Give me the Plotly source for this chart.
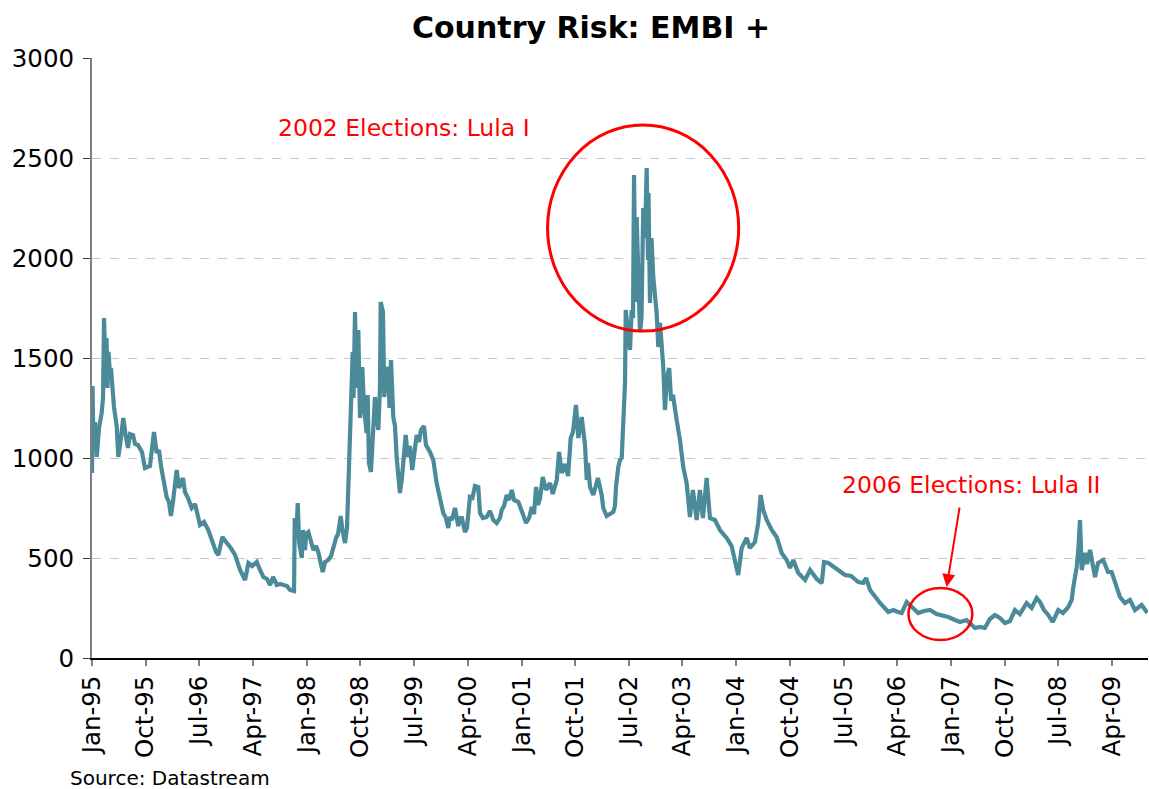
import pandas as pd
import plotly.graph_objects as go

# Observation times (decimal years) and EMBI+ spread (basis points)
t_year = [
    1995.000, 1995.007, 1995.021, 1995.042, 1995.066, 1995.098, 1995.135, 1995.154, 1995.168, 1995.189,
    1995.203, 1995.216, 1995.230, 1995.251, 1995.265, 1995.307, 1995.345, 1995.367, 1995.391, 1995.437,
    1995.468, 1995.503, 1995.531, 1995.573, 1995.601, 1995.642, 1995.698, 1995.740, 1995.810, 1995.838,
    1995.866, 1995.904, 1995.936, 1995.964, 1995.992, 1996.043, 1996.075, 1996.103, 1996.131, 1996.183,
    1996.215, 1996.243, 1996.271, 1996.299, 1996.341, 1996.392, 1996.439, 1996.508, 1996.564, 1996.624,
    1996.662, 1996.690, 1996.732, 1996.764, 1996.820, 1996.871, 1996.927, 1996.997, 1997.067, 1997.137,
    1997.183, 1997.235, 1997.300, 1997.346, 1997.392, 1997.444, 1997.486, 1997.528, 1997.580, 1997.626,
    1997.672, 1997.723, 1997.765, 1997.821, 1997.831, 1997.849, 1997.873, 1997.891, 1997.929, 1997.947,
    1997.975, 1997.989, 1998.021, 1998.059, 1998.091, 1998.128, 1998.160, 1998.184, 1998.222, 1998.254,
    1998.300, 1998.338, 1998.370, 1998.408, 1998.436, 1998.473, 1998.498, 1998.533, 1998.561, 1998.585,
    1998.613, 1998.641, 1998.652, 1998.673, 1998.694, 1998.719, 1998.743, 1998.775, 1998.799, 1998.836,
    1998.850, 1998.868, 1998.896, 1998.929, 1998.952, 1998.980, 1998.999, 1999.022, 1999.032, 1999.064,
    1999.082, 1999.106, 1999.138, 1999.155, 1999.176, 1999.208, 1999.232, 1999.255, 1999.278, 1999.301,
    1999.329, 1999.381, 1999.413, 1999.441, 1999.473, 1999.497, 1999.535, 1999.567, 1999.595, 1999.637,
    1999.665, 1999.721, 1999.767, 1999.814, 1999.860, 1999.906, 1999.944, 1999.976, 2000.000, 2000.028,
    2000.070, 2000.116, 2000.139, 2000.167, 2000.209, 2000.237, 2000.279, 2000.314, 2000.349, 2000.395,
    2000.419, 2000.461, 2000.512, 2000.558, 2000.604, 2000.652, 2000.698, 2000.721, 2000.754, 2000.791,
    2000.824, 2000.861, 2000.894, 2000.954, 2001.001, 2001.033, 2001.061, 2001.103, 2001.141, 2001.173,
    2001.201, 2001.229, 2001.257, 2001.294, 2001.340, 2001.396, 2001.434, 2001.490, 2001.522, 2001.560,
    2001.606, 2001.648, 2001.685, 2001.717, 2001.759, 2001.792, 2001.839, 2001.885, 2001.909, 2001.927,
    2001.955, 2002.001, 2002.048, 2002.066, 2002.118, 2002.140, 2002.188, 2002.234, 2002.280, 2002.304,
    2002.318, 2002.350, 2002.374, 2002.398, 2002.420, 2002.444, 2002.454, 2002.486, 2002.514, 2002.537,
    2002.556, 2002.570, 2002.591, 2002.607, 2002.630, 2002.653, 2002.674, 2002.699, 2002.723, 2002.747,
    2002.765, 2002.772, 2002.793, 2002.814, 2002.839, 2002.886, 2002.909, 2002.933, 2002.979, 2003.002,
    2003.030, 2003.062, 2003.086, 2003.118, 2003.166, 2003.212, 2003.258, 2003.305, 2003.351, 2003.393,
    2003.445, 2003.491, 2003.533, 2003.585, 2003.631, 2003.701, 2003.771, 2003.864, 2003.934, 2003.980,
    2004.026, 2004.074, 2004.143, 2004.189, 2004.259, 2004.305, 2004.339, 2004.375, 2004.423, 2004.493,
    2004.562, 2004.632, 2004.702, 2004.748, 2004.794, 2004.864, 2004.958, 2005.028, 2005.121, 2005.191,
    2005.223, 2005.283, 2005.353, 2005.419, 2005.516, 2005.600, 2005.702, 2005.772, 2005.810, 2005.866,
    2005.935, 2006.005, 2006.121, 2006.191, 2006.257, 2006.308, 2006.378, 2006.452, 2006.540, 2006.620,
    2006.704, 2006.797, 2006.871, 2006.959, 2007.053, 2007.122, 2007.216, 2007.332, 2007.401, 2007.471,
    2007.541, 2007.611, 2007.681, 2007.751, 2007.821, 2007.891, 2007.960, 2008.054, 2008.124, 2008.194,
    2008.240, 2008.296, 2008.356, 2008.417, 2008.495, 2008.561, 2008.635, 2008.682, 2008.705, 2008.752,
    2008.775, 2008.798, 2008.822, 2008.868, 2008.896, 2008.938, 2009.007, 2009.049, 2009.123, 2009.189,
    2009.240, 2009.286, 2009.356, 2009.426, 2009.496, 2009.566, 2009.659, 2009.740,
]

embi_bp = [
    925, 1360, 1050, 1180, 1005, 1150, 1225, 1300, 1700, 1450,
    1600, 1350, 1530, 1420, 1450, 1255, 1160, 1005, 1060, 1200,
    1120, 1050, 1120, 1115, 1070, 1065, 1030, 950, 960, 1060,
    1130, 1025, 1040, 960, 905, 805, 780, 710, 780, 940,
    850, 880, 900, 830, 800, 750, 770, 665, 680, 640,
    600, 565, 530, 515, 605, 580, 555, 515, 440, 390,
    475, 460, 480, 440, 405, 395, 365, 405, 365, 370,
    365, 360, 340, 335, 700, 600, 775, 580, 500, 640,
    540, 620, 630, 570, 540, 560, 530, 490, 430, 480,
    490, 510, 555, 600, 620, 710, 640, 575, 650, 875,
    1190, 1530, 1300, 1730, 1350, 1640, 1200, 1455, 1250, 1125,
    1315, 975, 930, 1200, 1305, 1200, 1140, 1350, 1780, 1730,
    1305, 1400, 1455, 1250, 1490, 1205, 1160, 1005, 900, 825,
    900, 1115, 1005, 1060, 940, 1000, 1115, 1080, 1140, 1160,
    1065, 1030, 990, 875, 805, 725, 700, 650, 705, 690,
    750, 660, 700, 700, 630, 650, 805, 800, 860, 855,
    725, 700, 705, 735, 690, 675, 700, 740, 760, 815,
    790, 840, 790, 780, 735, 700, 675, 700, 755, 720,
    855, 765, 800, 905, 840, 875, 820, 890, 1030, 925,
    970, 910, 1100, 1130, 1265, 1100, 1205, 1065, 890, 975,
    855, 815, 880, 900, 815, 750, 710, 720, 730, 760,
    855, 955, 990, 1000, 1225, 1375, 1740, 1620, 1540, 1740,
    1700, 2415, 1780, 2205, 1800, 1630, 1700, 2250, 2100, 2450,
    1990, 2325, 1775, 2100, 1905, 1725, 1555, 1675, 1455, 1240,
    1400, 1450, 1300, 1305, 1190, 1090, 955, 875, 705, 840,
    690, 840, 700, 900, 700, 690, 640, 600, 560, 490,
    415, 550, 600, 550, 580, 675, 815, 740, 690, 640,
    605, 525, 490, 450, 490, 425, 390, 440, 395, 375,
    480, 475, 455, 440, 415, 410, 380, 375, 400, 340,
    305, 275, 230, 240, 230, 225, 280, 255, 225, 235,
    240, 220, 215, 205, 190, 180, 190, 150, 155, 150,
    195, 215, 200, 175, 185, 240, 220, 275, 250, 300,
    280, 240, 215, 180, 240, 225, 255, 290, 355, 455,
    540, 690, 440, 525, 470, 540, 405, 475, 490, 430,
    430, 375, 305, 275, 290, 240, 265, 225,
]


def to_timestamp(t):
    year = int(t)
    start = pd.Timestamp(year=year, month=1, day=1)
    days = (pd.Timestamp(year=year + 1, month=1, day=1) - start).days
    return start + pd.Timedelta(days=(t - year) * days)


dates = [to_timestamp(t) for t in t_year]

LINE_COLOR = "#4a8a99"
RED = "#ff0000"
FONT = "DejaVu Sans"

fig = go.Figure()
fig.add_trace(go.Scatter(
    x=dates, y=embi_bp, mode="lines",
    line=dict(color=LINE_COLOR, width=4.2),
    showlegend=False,
))

# Highlight rings around the two election periods
fig.add_shape(type="circle", xref="x", yref="y",
              x0="2001-05-13", x1="2004-01-13", y0=1635, y1=2665,
              line=dict(color=RED, width=3))
fig.add_shape(type="circle", xref="x", yref="y",
              x0="2006-05-28", x1="2007-04-19", y0=90, y1=350,
              line=dict(color=RED, width=2.5))

fig.add_annotation(x="1999-05-11", y=2650, xref="x", yref="y",
                   text="2002 Elections: Lula I", showarrow=False,
                   font=dict(family=FONT, size=23.5, color=RED))
fig.add_annotation(x="2007-04-16", y=865, xref="x", yref="y",
                   text="2006 Elections: Lula II", showarrow=False,
                   font=dict(family=FONT, size=23.5, color=RED))
fig.add_annotation(x="2006-12-09", y=355, xref="x", yref="y",
                   ax="2007-02-14", ay=760, axref="x", ayref="y",
                   text="", showarrow=True, arrowhead=2, arrowsize=1.3,
                   arrowwidth=2, arrowcolor=RED)

fig.add_annotation(x=-0.0227, y=-0.2, xref="paper", yref="paper",
                   text="Source: Datastream", showarrow=False,
                   xanchor="left", yanchor="middle",
                   font=dict(family=FONT, size=20, color="black"))

fig.update_layout(
    width=1149, height=789,
    margin=dict(l=92, r=1, t=58, b=131),
    paper_bgcolor="white", plot_bgcolor="white",
    title=dict(text="<b>Country Risk: EMBI +</b>", x=591 / 1149, xanchor="center",
               y=1 - 27 / 789, yanchor="middle",
               font=dict(family=FONT, size=30, color="black")),
    font=dict(family=FONT, color="black"),
)

fig.update_xaxes(
    range=["1995-01-01", "2009-10-01"],
    tick0="1995-01-01", dtick="M9", tickformat="%b-%y", tickangle=-90,
    showgrid=False, showline=True, linecolor="black", linewidth=1.5,
    ticks="outside", ticklen=6, tickcolor="#808080", tickwidth=1.5,
    tickfont=dict(family=FONT, size=24.5, color="black"),
    zeroline=False,
)
fig.update_yaxes(
    range=[0, 3000], dtick=500,
    showgrid=True, gridcolor="#c8c8c8", griddash="dash", gridwidth=1,
    showline=True, linecolor="#808080", linewidth=2,
    ticks="outside", ticklen=7, tickcolor="#404040", tickwidth=1,
    ticklabelstandoff=4,
    tickfont=dict(family=FONT, size=24.5, color="black"),
    zeroline=False,
)

fig.write_html("out.html")
